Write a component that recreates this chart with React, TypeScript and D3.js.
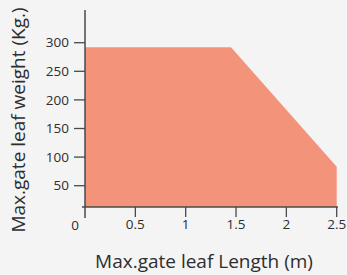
import React, { useEffect, useRef } from 'react';
import * as d3 from 'd3';

// gate leaf length (m) vs max weight (kg)
const lengths = [0, 1.45, 2.5];
const weights = [292, 292, 83];
const xTicks = [0.5, 1, 1.5, 2, 2.5];
const yTicks = [50, 100, 150, 200, 250, 300];

const width = 347;
const height = 275;
const fillColor = '#f2937a';
const axisColor = '#4a4a4a';
const textColor = '#2e2e2e';
const font = "'Open Sans', 'DejaVu Sans', sans-serif";

const App = () => {
  const svgRef = useRef<SVGSVGElement | null>(null);

  useEffect(() => {
    const svg = d3.select(svgRef.current);
    svg.selectAll('*').remove();

    const x = d3.scaleLinear().domain([0, 2.5]).range([85, 336.7]);
    const y = d3.scaleLinear().domain([0, 300]).range([214.3, 42.7]);
    const baseY = 207; // x axis sits slightly above zero

    svg.append('rect')
      .attr('width', width)
      .attr('height', height)
      .attr('fill', '#f4f4f5');

    // filled area
    const pts = lengths.map((l, i) => [l, weights[i]] as [number, number]);
    const area = d3.area<[number, number]>()
      .x(d => x(d[0]))
      .y0(baseY)
      .y1(d => y(d[1]));
    svg.append('path')
      .datum(pts)
      .attr('d', area)
      .attr('fill', fillColor);

    // y axis
    const yAxis = svg.append('g');
    yAxis.append('line')
      .attr('x1', x(0)).attr('x2', x(0))
      .attr('y1', 10).attr('y2', 218)
      .attr('stroke', axisColor).attr('stroke-width', 1.5);
    yAxis.selectAll('line.tick')
      .data(yTicks)
      .join('line')
      .attr('class', 'tick')
      .attr('x1', x(0) - 11).attr('x2', x(0))
      .attr('y1', d => y(d)).attr('y2', d => y(d))
      .attr('stroke', axisColor).attr('stroke-width', 1.3);
    yAxis.selectAll('text')
      .data(yTicks)
      .join('text')
      .attr('x', 69)
      .attr('y', d => y(d))
      .attr('dy', '0.35em')
      .attr('text-anchor', 'end')
      .style('font-family', font)
      .style('font-size', '13.5px')
      .style('fill', textColor)
      .text(d => d3.format('d')(d));

    // x axis
    const xAxis = svg.append('g');
    xAxis.append('line')
      .attr('x1', 82).attr('x2', 338)
      .attr('y1', baseY).attr('y2', baseY)
      .attr('stroke', axisColor).attr('stroke-width', 1.5);
    xAxis.selectAll('line.tick')
      .data(xTicks)
      .join('line')
      .attr('class', 'tick')
      .attr('x1', d => x(d)).attr('x2', d => x(d))
      .attr('y1', baseY).attr('y2', baseY + 10)
      .attr('stroke', axisColor).attr('stroke-width', 1.3);
    xAxis.selectAll('text')
      .data(xTicks)
      .join('text')
      .attr('x', d => x(d))
      .attr('y', 224)
      .attr('dy', '0.35em')
      .attr('text-anchor', 'middle')
      .style('font-family', font)
      .style('font-size', '13.5px')
      .style('fill', textColor)
      .text(d => String(d));

    // origin label
    svg.append('text')
      .attr('x', 75)
      .attr('y', 225)
      .attr('dy', '0.35em')
      .attr('text-anchor', 'middle')
      .style('font-family', font)
      .style('font-size', '13.5px')
      .style('fill', textColor)
      .text('0');

    // axis titles
    svg.append('text')
      .attr('x', 204)
      .attr('y', 268)
      .attr('text-anchor', 'middle')
      .style('font-family', font)
      .style('font-size', '19px')
      .style('fill', textColor)
      .text('Max.gate leaf Length (m)');

    svg.append('text')
      .attr('transform', 'translate(25,120) rotate(-90)')
      .attr('text-anchor', 'middle')
      .style('font-family', font)
      .style('font-size', '19px')
      .style('fill', textColor)
      .text('Max.gate leaf weight (Kg.)');
  }, []);

  return (
    <svg
      ref={svgRef}
      width={width}
      height={height}
      style={{ position: 'fixed', top: 0, left: 0, display: 'block' }}
    />
  );
};

export default App;
